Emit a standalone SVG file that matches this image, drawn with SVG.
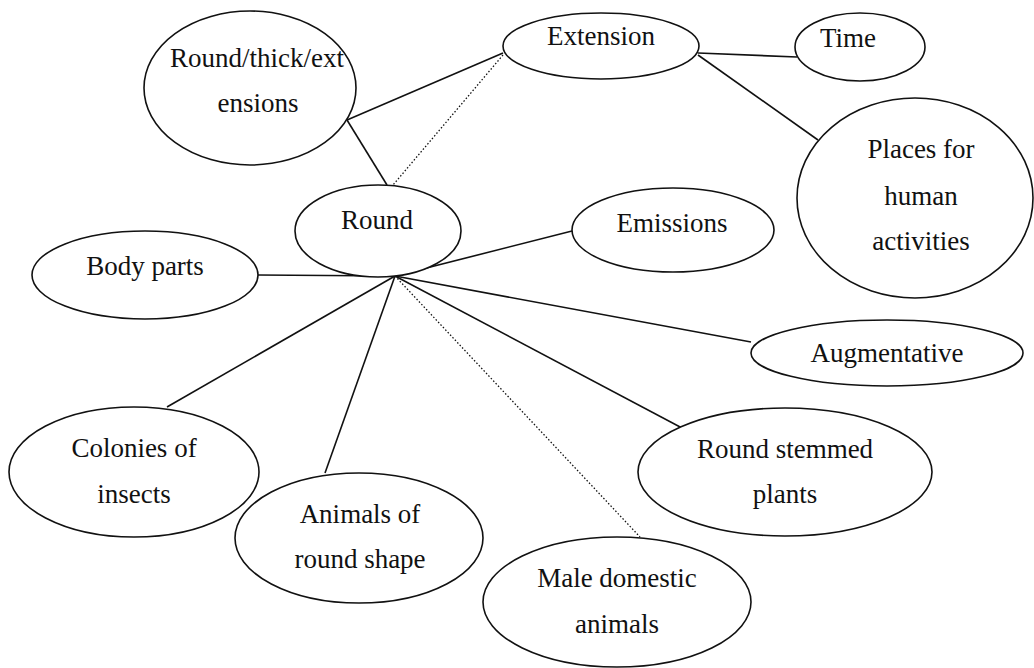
<svg xmlns="http://www.w3.org/2000/svg" width="1034" height="668" viewBox="0 0 1034 668">
  <style>
    .node ellipse { fill: #ffffff; stroke: #111111; stroke-width: 1.6; }
    .node text { font-family: 'Liberation Serif', 'Times New Roman', Times, 'DejaVu Serif', serif; font-size: 27px; fill: #111111; text-anchor: middle; }
    .link { stroke: #111111; stroke-width: 1.6; fill: none; }
    .link.dotted { stroke-width: 1.3; stroke-dasharray: 1.5 2; }
  </style>
  <rect width="1034" height="668" fill="#ffffff"/>

  <!-- connectors -->
  <g id="connectors">
    <line class="link" x1="347" y1="120" x2="503" y2="53"/>
    <line class="link" x1="347" y1="120" x2="387" y2="185"/>
    <line class="link dotted" x1="503" y1="55" x2="393" y2="185"/>
    <line class="link" x1="698" y1="53" x2="797" y2="57"/>
    <line class="link" x1="698" y1="55" x2="818" y2="140"/>
    <line class="link" x1="395" y1="276" x2="258" y2="275"/>
    <line class="link" x1="395" y1="276" x2="572" y2="231"/>
    <line class="link" x1="395" y1="276" x2="751" y2="342"/>
    <line class="link" x1="395" y1="276" x2="682" y2="428"/>
    <line class="link dotted" x1="395" y1="276" x2="640" y2="537"/>
    <line class="link" x1="395" y1="276" x2="325" y2="473"/>
    <line class="link" x1="395" y1="276" x2="167" y2="407"/>
  </g>

  <g id="node-round-thick" class="node">
    <ellipse cx="250" cy="88" rx="106" ry="77"/>
    <text x="257" y="67">Round/thick/ext</text>
    <text x="258" y="112">ensions</text>
  </g>

  <g id="node-extension" class="node">
    <ellipse cx="601" cy="46" rx="98" ry="33"/>
    <text x="601" y="45">Extension</text>
  </g>

  <g id="node-time" class="node">
    <ellipse cx="860" cy="47" rx="65" ry="34"/>
    <text x="848" y="47">Time</text>
  </g>

  <g id="node-places" class="node">
    <ellipse cx="915" cy="198" rx="118" ry="100"/>
    <text x="921" y="158">Places for</text>
    <text x="921" y="205">human</text>
    <text x="921" y="250">activities</text>
  </g>

  <g id="node-round" class="node">
    <ellipse cx="378" cy="231" rx="83" ry="46"/>
    <text x="377" y="229">Round</text>
  </g>

  <g id="node-body-parts" class="node">
    <ellipse cx="145" cy="275" rx="113" ry="44"/>
    <text x="145" y="275">Body parts</text>
  </g>

  <g id="node-emissions" class="node">
    <ellipse cx="673" cy="230" rx="101" ry="42"/>
    <text x="672" y="232">Emissions</text>
  </g>

  <g id="node-augmentative" class="node">
    <ellipse cx="887" cy="353" rx="136" ry="33"/>
    <text x="887" y="362">Augmentative</text>
  </g>

  <g id="node-colonies" class="node">
    <ellipse cx="134" cy="472" rx="125" ry="65"/>
    <text x="134" y="457">Colonies of</text>
    <text x="134" y="503">insects</text>
  </g>

  <g id="node-animals-round" class="node">
    <ellipse cx="359" cy="538" rx="124" ry="65"/>
    <text x="360" y="523">Animals of</text>
    <text x="360" y="568">round shape</text>
  </g>

  <g id="node-round-stemmed" class="node">
    <ellipse cx="785" cy="472" rx="147" ry="64"/>
    <text x="785" y="458">Round stemmed</text>
    <text x="785" y="503">plants</text>
  </g>

  <g id="node-male-domestic" class="node">
    <ellipse cx="617" cy="602" rx="134" ry="65"/>
    <text x="617" y="587">Male domestic</text>
    <text x="617" y="633">animals</text>
  </g>
</svg>
